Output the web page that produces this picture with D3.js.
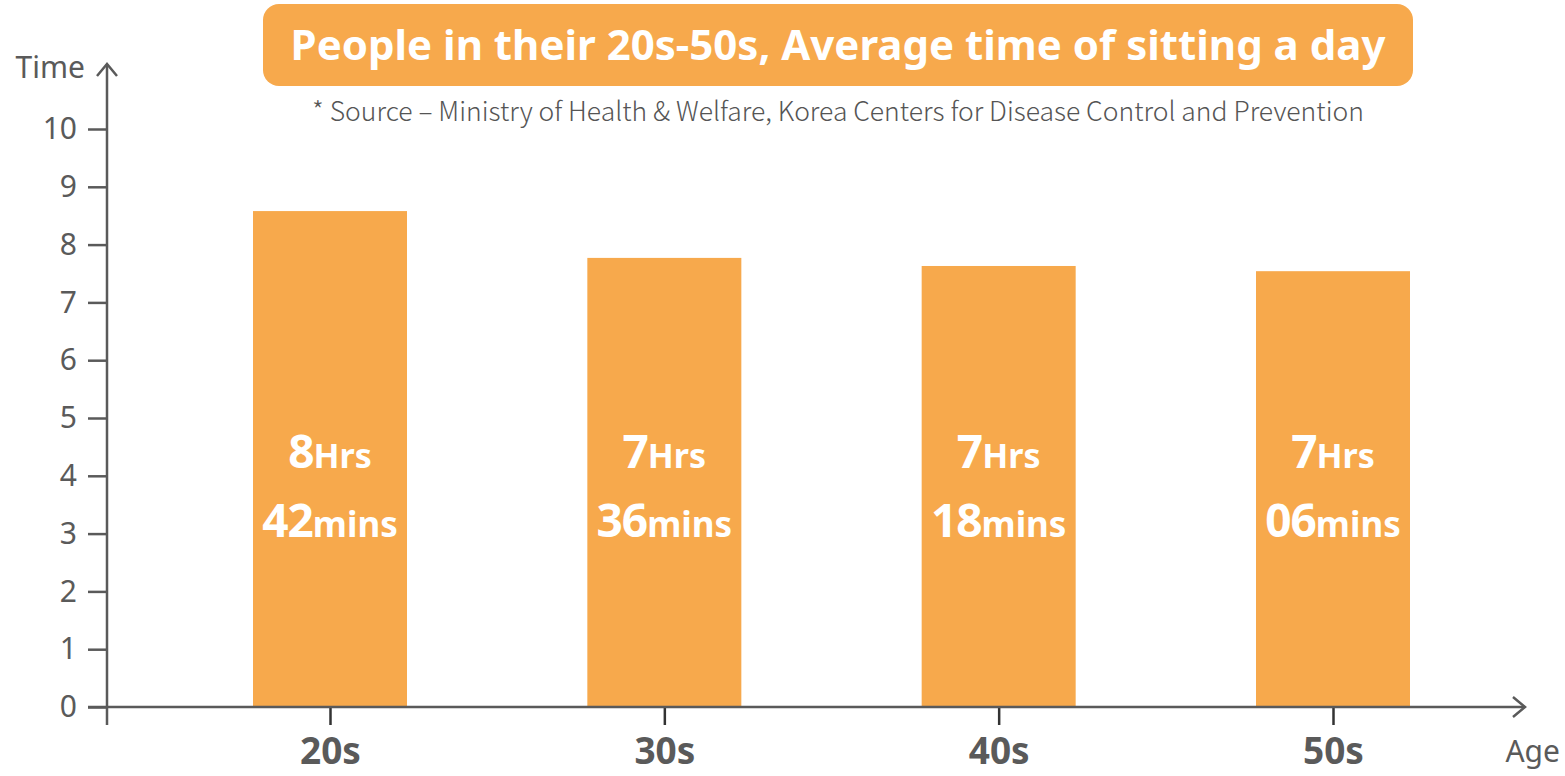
<!DOCTYPE html>
<html>
<head>
<meta charset="utf-8">
<script src="https://cdn.jsdelivr.net/npm/d3@7"></script>
<style>
  html, body { margin: 0; padding: 0; background: #fff; }
  svg { display: block; font-family: "Noto Sans CJK KR", "Noto Sans", sans-serif; }
</style>
</head>
<body>
<svg width="1565" height="776"></svg>
<script>
  const ages = ["20s", "30s", "40s", "50s"];
  const sitting = [8.58, 7.77, 7.63, 7.54];
  const hoursText = ["8", "7", "7", "7"];
  const minsText = ["42", "36", "18", "06"];
  const yTicks = [0, 1, 2, 3, 4, 5, 6, 7, 8, 9, 10];

  const svg = d3.select("svg");
  const orange = "#f7a94c";
  const axisColor = "#5a5a5a";

  const yScale = d3.scaleLinear().domain([0, 10]).range([707, 129]);
  const xScale = d3.scalePoint().domain(ages).range([330, 1333]);
  const barWidth = 154;

  // bars
  svg.append("g")
    .selectAll("rect")
    .data(ages)
    .enter()
    .append("rect")
    .attr("x", d => xScale(d) - barWidth / 2)
    .attr("y", (d, i) => yScale(sitting[i]))
    .attr("width", barWidth)
    .attr("height", (d, i) => yScale(0) - yScale(sitting[i]))
    .attr("fill", orange);

  // y axis
  const yAxis = d3.axisLeft(yScale).tickValues(yTicks).tickSize(19).tickPadding(11);
  const yAxisG = svg.append("g").attr("transform", "translate(107,0)").call(yAxis);
  yAxisG.select(".domain").remove();
  yAxisG.selectAll("line").attr("stroke", axisColor).attr("stroke-width", 2.5);
  yAxisG.selectAll("text")
    .attr("fill", axisColor)
    .attr("font-size", 30)
    .attr("font-family", "'Noto Sans', sans-serif");

  // x axis
  const xAxis = d3.axisBottom(xScale).tickSize(18).tickPadding(13);
  const xAxisG = svg.append("g").attr("transform", "translate(0,707)").call(xAxis);
  xAxisG.select(".domain").remove();
  xAxisG.selectAll("line").attr("stroke", "#333").attr("stroke-width", 2.5);
  xAxisG.selectAll("text")
    .attr("fill", axisColor)
    .attr("font-size", 37)
    .attr("font-weight", "bold")
    .attr("font-family", "'Noto Sans', sans-serif");

  // axis lines with arrows
  svg.append("line")
    .attr("x1", 107).attr("y1", 725).attr("x2", 107).attr("y2", 64)
    .attr("stroke", axisColor).attr("stroke-width", 2.5);
  svg.append("path")
    .attr("d", "M97,76 L107,64 L117,76")
    .attr("fill", "none").attr("stroke", axisColor).attr("stroke-width", 2.5);
  svg.append("line")
    .attr("x1", 88).attr("y1", 707).attr("x2", 1525).attr("y2", 707)
    .attr("stroke", axisColor).attr("stroke-width", 2.5);
  svg.append("path")
    .attr("d", "M1513,697 L1525,707 L1513,717")
    .attr("fill", "none").attr("stroke", axisColor).attr("stroke-width", 2.5);

  svg.append("text")
    .attr("x", 85).attr("y", 78)
    .attr("text-anchor", "end")
    .attr("fill", axisColor)
    .attr("font-size", 30)
    .attr("font-family", "'Noto Sans', sans-serif")
    .text("Time");

  svg.append("text")
    .attr("x", 1560).attr("y", 762)
    .attr("text-anchor", "end")
    .attr("fill", axisColor)
    .attr("font-size", 30)
    .attr("font-family", "'Noto Sans', sans-serif")
    .text("Age");

  // bar labels
  const labels = svg.append("g")
    .attr("fill", "#fff")
    .attr("font-weight", "bold")
    .attr("font-family", "'Noto Sans', sans-serif")
    .attr("text-anchor", "middle");

  ages.forEach((a, i) => {
    const t1 = labels.append("text").attr("x", xScale(a)).attr("y", 468);
    t1.append("tspan").attr("font-size", 46).attr("letter-spacing", -1).text(hoursText[i]);
    t1.append("tspan").attr("font-size", 34).text("Hrs");
    const t2 = labels.append("text").attr("x", xScale(a)).attr("y", 537);
    t2.append("tspan").attr("font-size", 46).attr("letter-spacing", -1).text(minsText[i]);
    t2.append("tspan").attr("font-size", 35).text("mins");
  });

  // title
  svg.append("rect")
    .attr("x", 263).attr("y", 4)
    .attr("width", 1150).attr("height", 82)
    .attr("rx", 16)
    .attr("fill", orange);
  svg.append("text")
    .attr("x", 838).attr("y", 60)
    .attr("text-anchor", "middle")
    .attr("fill", "#fff")
    .attr("font-size", 42)
    .attr("font-weight", "bold")
    .attr("font-family", "'Noto Sans', sans-serif")
    .text("People in their 20s-50s, Average time of sitting a day");

  svg.append("text")
    .attr("x", 838).attr("y", 121)
    .attr("text-anchor", "middle")
    .attr("fill", "#555")
    .attr("font-size", 26.5)
    .attr("font-weight", 300)
    .attr("font-family", "'Noto Sans CJK KR', sans-serif")
    .text("* Source \u2013 Ministry of Health & Welfare, Korea Centers for Disease Control and Prevention");
</script>
</body>
</html>
